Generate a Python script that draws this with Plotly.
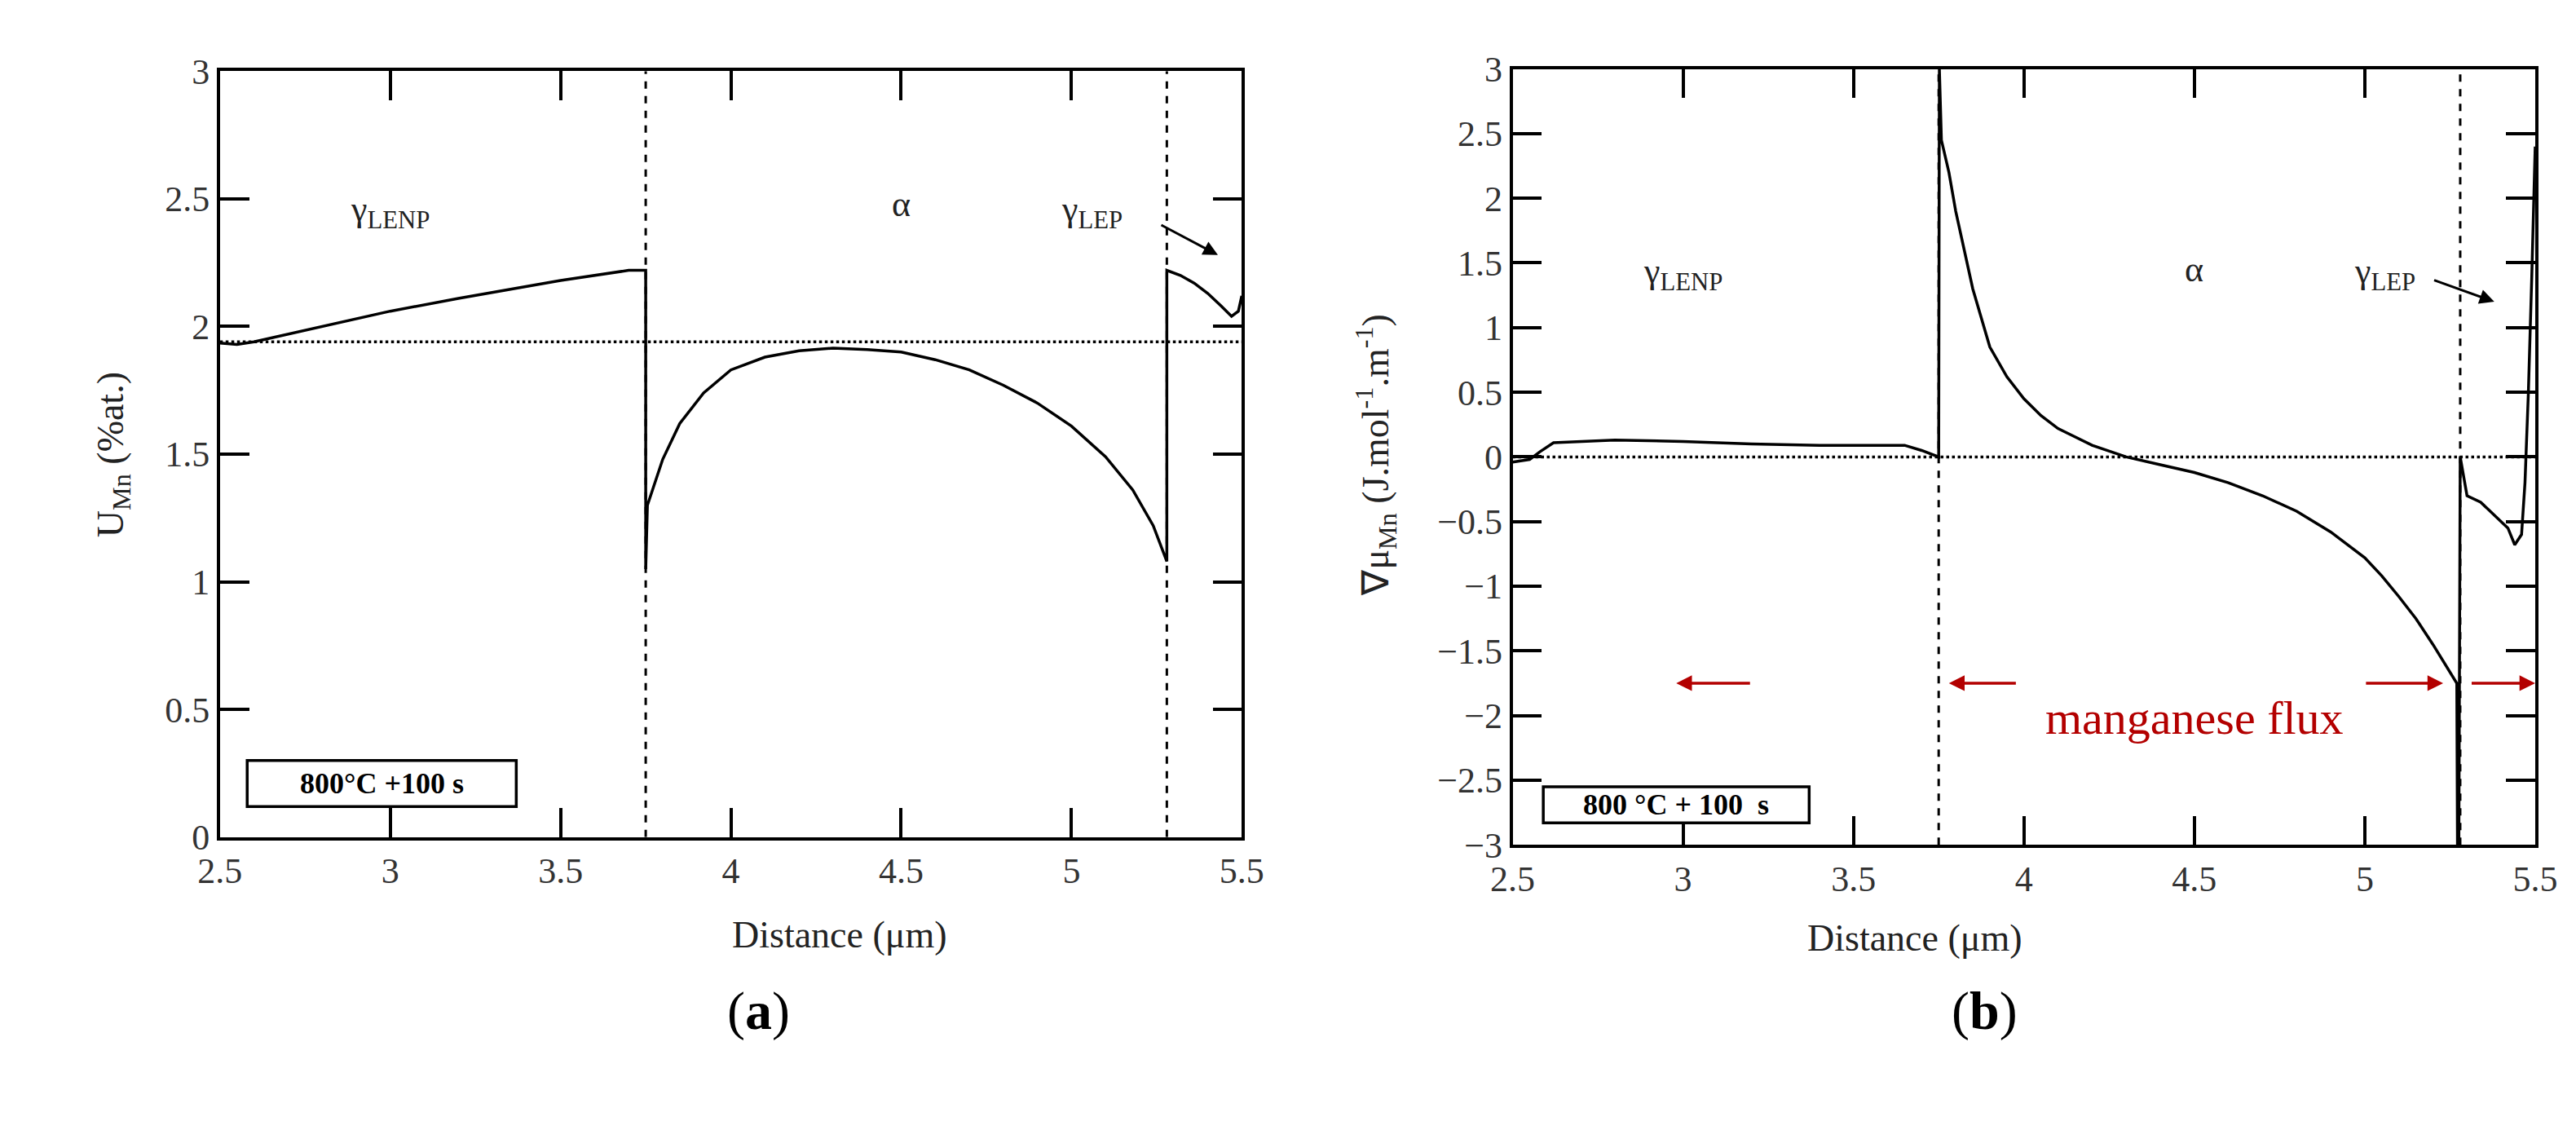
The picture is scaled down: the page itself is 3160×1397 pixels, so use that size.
import plotly.graph_objects as go

# panel (a): U_Mn vs distance
ua_x = [2.5, 2.55, 2.6, 2.8, 3.0, 3.2, 3.5, 3.7, 3.75, 3.75, 3.755, 3.8, 3.85, 3.92, 4.0, 4.1, 4.2, 4.3, 4.4,
        4.5, 4.6, 4.7, 4.8, 4.9, 5.0, 5.1, 5.18, 5.24, 5.28, 5.28, 5.32, 5.36, 5.4, 5.44, 5.47, 5.49, 5.5]
ua_y = [1.935, 1.93, 1.94, 2.0, 2.06, 2.11, 2.18, 2.22, 2.22, 1.05, 1.3, 1.48, 1.62, 1.74, 1.83, 1.88, 1.905,
        1.915, 1.91, 1.9, 1.87, 1.83, 1.77, 1.7, 1.61, 1.49, 1.36, 1.22, 1.08, 2.22, 2.2, 2.17, 2.13, 2.08,
        2.04, 2.06, 2.12]

# panel (b): grad mu_Mn vs distance
gb_x = [2.5, 2.55, 2.58, 2.62, 2.8, 3.0, 3.2, 3.4, 3.6, 3.65, 3.7, 3.75, 3.752, 3.758, 3.78, 3.8, 3.85,
        3.9, 3.95, 4.0, 4.05, 4.1, 4.2, 4.3, 4.4, 4.5, 4.6, 4.7, 4.8, 4.9, 5.0, 5.05, 5.1, 5.15, 5.2,
        5.24, 5.27, 5.272, 5.276, 5.28, 5.3, 5.34, 5.38, 5.42, 5.44, 5.46, 5.47, 5.48, 5.49, 5.5]
gb_y = [-0.04, -0.02, 0.04, 0.11, 0.13, 0.12, 0.1, 0.09, 0.09, 0.09, 0.05, 0.0, 3.0, 2.45, 2.2, 1.9, 1.3,
        0.85, 0.62, 0.45, 0.32, 0.22, 0.09, 0.0, -0.06, -0.12, -0.2, -0.3, -0.42, -0.58, -0.78, -0.92,
        -1.08, -1.25, -1.45, -1.62, -1.75, -3.0, -3.0, 0.0, -0.3, -0.35, -0.45, -0.55, -0.68, -0.6,
        -0.2, 0.5, 1.4, 2.4]

interfaces = [3.75, 5.28]
ua_ref = 1.94

tick_x = [2.5, 3, 3.5, 4, 4.5, 5, 5.5]
tick_ya = [0, 0.5, 1, 1.5, 2, 2.5, 3]
tick_yb = [-3, -2.5, -2, -1.5, -1, -0.5, 0, 0.5, 1, 1.5, 2, 2.5, 3]

FONT = "Liberation Serif"
RED = "#b30000"
TXT = "#222"

fig = go.Figure()
fig.add_trace(go.Scatter(x=ua_x, y=ua_y, mode="lines", line=dict(color="black", width=3.5),
                         xaxis="x", yaxis="y", showlegend=False))
fig.add_trace(go.Scatter(x=gb_x, y=gb_y, mode="lines", line=dict(color="black", width=3.5),
                         xaxis="x2", yaxis="y2", showlegend=False))

axis_style = dict(showgrid=False, zeroline=False, showline=True, linecolor="black", linewidth=3.5,
                  mirror="ticks", ticks="inside", ticklen=36, tickwidth=3.5, tickcolor="black",
                  tickfont=dict(family=FONT, size=44, color="#333"))

fig.update_layout(
    width=3160, height=1397, margin=dict(l=0, r=0, t=0, b=0),
    plot_bgcolor="white", paper_bgcolor="white",
    font=dict(family=FONT, color=TXT),
    xaxis=dict(domain=[0.0753, 0.479], range=[2.5, 5.5], tickvals=tick_x, anchor="y", **axis_style),
    yaxis=dict(domain=[0.262, 0.959], range=[0, 3], tickvals=tick_ya, anchor="x", **axis_style),
    xaxis2=dict(domain=[0.586, 0.990], range=[2.5, 5.5], tickvals=tick_x, anchor="y2", **axis_style),
    yaxis2=dict(domain=[0.255, 0.961], range=[-3, 3], tickvals=tick_yb, anchor="x2", **axis_style),
)

# axis titles
fig.add_annotation(x=0.277, y=0.153, xref="paper", yref="paper", text="Distance (μm)", showarrow=False,
                   font=dict(size=46, color=TXT))
fig.add_annotation(x=0.788, y=0.150, xref="paper", yref="paper", text="Distance (μm)", showarrow=False,
                   font=dict(size=46, color=TXT))
fig.add_annotation(x=0.023, y=0.61, xref="paper", yref="paper", text="U<sub>Mn</sub> (%at.)",
                   showarrow=False, textangle=-90, font=dict(size=46, color=TXT))
fig.add_annotation(x=0.532, y=0.61, xref="paper", yref="paper",
                   text="∇μ<sub>Mn</sub> (J.mol<sup>-1</sup>.m<sup>-1</sup>)",
                   showarrow=False, textangle=-90, font=dict(size=46, color=TXT))

# interface lines and reference lines
for xi in interfaces:
    fig.add_shape(type="line", x0=xi, x1=xi, y0=0, y1=3, xref="x", yref="y",
                  line=dict(color="black", width=3, dash="dash"))
    fig.add_shape(type="line", x0=xi, x1=xi, y0=-3, y1=3, xref="x2", yref="y2",
                  line=dict(color="black", width=3, dash="dash"))
fig.add_shape(type="line", x0=2.5, x1=5.5, y0=ua_ref, y1=ua_ref, xref="x", yref="y",
              line=dict(color="black", width=3.5, dash="dot"))
fig.add_shape(type="line", x0=2.5, x1=5.5, y0=0, y1=0, xref="x2", yref="y2",
              line=dict(color="black", width=3.5, dash="dot"))

# condition boxes
fig.add_shape(type="rect", x0=2.58, x1=3.37, y0=0.12, y1=0.3, xref="x", yref="y",
              line=dict(color="black", width=3.5), fillcolor="white")
fig.add_annotation(x=2.975, y=0.21, xref="x", yref="y", text="<b>800°C +100 s</b>",
                   showarrow=False, font=dict(size=36, color="black"))
fig.add_shape(type="rect", x0=2.59, x1=3.37, y0=-2.83, y1=-2.55, xref="x2", yref="y2",
              line=dict(color="black", width=3.5), fillcolor="white")
fig.add_annotation(x=2.98, y=-2.69, xref="x2", yref="y2", text="<b>800 °C + 100  s</b>",
                   showarrow=False, font=dict(size=36, color="black"))

# phase labels
for xa, ya, yl in [("x", "y", 2.45), ("x2", "y2", 1.42)]:
    fig.add_annotation(x=3.0, y=yl, xref=xa, yref=ya, text="γ<sub>LENP</sub>", showarrow=False,
                       font=dict(size=44, color=TXT))
    fig.add_annotation(x=4.5, y=yl + 0.03, xref=xa, yref=ya, text="α", showarrow=False,
                       font=dict(size=44, color=TXT))
    fig.add_annotation(x=5.06, y=yl, xref=xa, yref=ya, text="γ<sub>LEP</sub>", showarrow=False,
                       font=dict(size=44, color=TXT))
fig.add_annotation(x=5.43, y=2.28, ax=5.26, ay=2.4, xref="x", yref="y", axref="x", ayref="y",
                   text="", showarrow=True, arrowhead=2, arrowwidth=3, arrowsize=1.2, arrowcolor="black")
fig.add_annotation(x=5.38, y=1.2, ax=5.2, ay=1.37, xref="x2", yref="y2", axref="x2", ayref="y2",
                   text="", showarrow=True, arrowhead=2, arrowwidth=3, arrowsize=1.2, arrowcolor="black")

# manganese flux arrows
for x0, x1 in [(3.2, 2.98), (3.98, 3.78), (5.0, 5.23), (5.31, 5.5)]:
    fig.add_annotation(x=x1, y=-1.75, ax=x0, ay=-1.75, xref="x2", yref="y2", axref="x2", ayref="y2",
                       text="", showarrow=True, arrowhead=2, arrowwidth=3.5, arrowsize=1.1,
                       arrowcolor=RED)
fig.add_annotation(x=4.5, y=-2.02, xref="x2", yref="y2", text="manganese flux", showarrow=False,
                   font=dict(size=58, color=RED))

# panel labels
fig.add_annotation(x=0.275, y=0.075, xref="paper", yref="paper", text="(<b>a</b>)", showarrow=False,
                   font=dict(size=66, color="black"))
fig.add_annotation(x=0.786, y=0.075, xref="paper", yref="paper", text="(<b>b</b>)", showarrow=False,
                   font=dict(size=66, color="black"))

fig.write_html("out.html")
